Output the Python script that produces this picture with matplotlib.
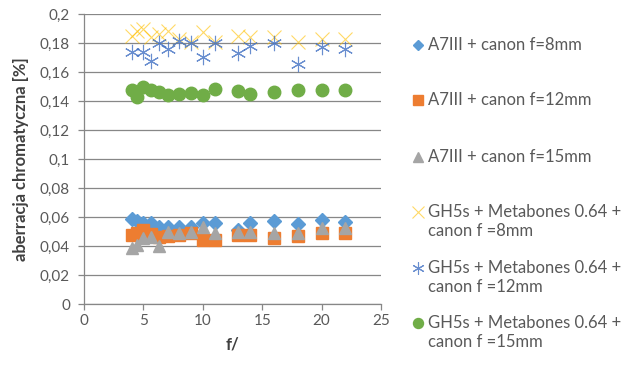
import matplotlib.pyplot as plt
from matplotlib.lines import Line2D

plt.rcParams['font.family'] = ['Lato', 'DejaVu Sans']

# f-number values
f_a = [4, 4.5, 5, 5.6, 6.3, 7.1, 8, 9, 10, 11, 13, 14, 16, 18, 20, 22]
f_b = [4, 5, 5.6, 6.3, 7.1, 8, 9, 10, 11, 13, 14, 16, 18, 20, 22]

a7_8 = [0.0586, 0.0570, 0.0560, 0.0556, 0.0533, 0.0533, 0.0529, 0.0530,
        0.0561, 0.0561, 0.0510, 0.0556, 0.0575, 0.0552, 0.0579, 0.0568]
a7_12 = [0.0476, 0.0490, 0.0510, 0.0480, 0.0464, 0.0470, 0.0475, 0.0487,
         0.0441, 0.0441, 0.0476, 0.0478, 0.0453, 0.0470, 0.0487, 0.0492]
a7_15 = [0.0384, 0.0407, 0.0453, 0.0460, 0.0400, 0.0499, 0.0487, 0.0499,
         0.0533, 0.0487, 0.0499, 0.0499, 0.0487, 0.0487, 0.0522, 0.0522]
gh_8 = [0.1850, 0.1880, 0.1900, 0.1840, 0.1860, 0.1880, 0.1830, 0.1810,
        0.1878, 0.1810, 0.1850, 0.1840, 0.1840, 0.1810, 0.1830, 0.1830]
gh_12 = [0.1740, 0.1740, 0.1676, 0.1802, 0.1756, 0.1814, 0.1802, 0.1701,
         0.1802, 0.1733, 0.1779, 0.1798, 0.1655, 0.1770, 0.1756]
gh_15 = [0.1476, 0.1426, 0.1494, 0.1476, 0.1464, 0.1441, 0.1446, 0.1457,
         0.1441, 0.1481, 0.1471, 0.1448, 0.1460, 0.1476, 0.1478, 0.1476]

labels = ['A7III + canon f=8mm', 'A7III + canon f=12mm', 'A7III + canon f=15mm',
          'GH5s + Metabones 0.64 +\ncanon f =8mm',
          'GH5s + Metabones 0.64 +\ncanon f =12mm',
          'GH5s + Metabones 0.64 +\ncanon f =15mm']

styles = [
    dict(marker='D', ms=7, color='#5B9BD5', ls='none'),
    dict(marker='s', ms=8.5, color='#ED7D31', ls='none'),
    dict(marker='^', ms=9, color='#A5A5A5', ls='none'),
    dict(marker='x', ms=10, color='#FFC000', mew=0.8, ls='none', alpha=0.6),
    dict(marker=(6, 2, 0), ms=11, color='#4472C4', mew=0.8, ls='none', alpha=0.8),
    dict(marker='o', ms=9, color='#70AD47', ls='none'),
]

fig = plt.figure(figsize=(6.22, 3.66), dpi=100)
ax = fig.add_axes([84 / 622, 1 - 304 / 366, 297 / 622, 290 / 366])

series = [(f_a, a7_8), (f_a, a7_12), (f_a, a7_15),
          (f_a, gh_8), (f_b, gh_12), (f_a, gh_15)]
for (x, y), st in zip(series, styles):
    ax.plot(x, y, **st)

ax.set_xlim(0, 25)
ax.set_ylim(0, 0.2)
ax.set_xticks(range(0, 26, 5))
ax.set_yticks([i * 0.02 for i in range(11)])
ax.set_yticklabels(['0', '0,02', '0,04', '0,06', '0,08', '0,1', '0,12',
                    '0,14', '0,16', '0,18', '0,2'])
ax.yaxis.grid(True, color='#878787', lw=0.9)
ax.set_axisbelow(True)
for s in ['top', 'right']:
    ax.spines[s].set_visible(False)
for s in ['left', 'bottom']:
    ax.spines[s].set_color('#878787')
    ax.spines[s].set_linewidth(0.9)
ax.tick_params(colors='#878787', labelcolor='#595959', labelsize=11, length=4, width=0.9)
ax.tick_params(axis='y', pad=6)
ax.set_xlabel('f/', fontsize=12, fontweight='bold', color='#404040', labelpad=6)
ax.set_ylabel('aberracja chromatyczna [%]', fontsize=12, fontweight='bold',
              color='#404040', labelpad=8)

# legend drawn by hand to match Excel slot spacing
ys = [45, 100, 157, 212, 268, 323]
for yy, st, lab in zip(ys, styles, labels):
    fy = 1 - yy / 366
    fig.add_artist(Line2D([418 / 622], [fy], transform=fig.transFigure,
                          **{k: v for k, v in st.items() if k != 'ms'},
                          ms=st['ms'] * 0.8))
    fig.text(428 / 622, fy + 8 / 366, lab, fontsize=12, color='#595959',
             va='top', ha='left', linespacing=1.25)

fig.savefig('out.png', dpi=100)
